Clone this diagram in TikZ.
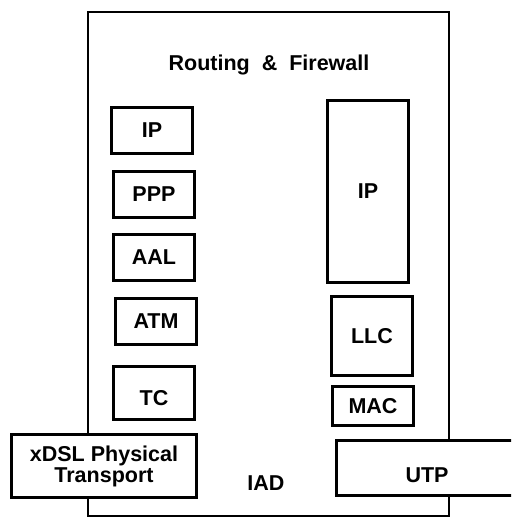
\documentclass[tikz,border=0pt]{standalone}
\usepackage{fontspec}
\setmainfont{Liberation Sans}
\begin{document}
\begin{tikzpicture}[x=1pt,y=-1pt,
  txt/.style={font=\fontsize{21.5}{21}\selectfont\bfseries, inner sep=0pt, align=center},
  layer/.style={txt, draw, line width=2.6pt, fill=white, outer sep=0pt},
  frame/.style={draw, line width=1.4pt, inner sep=0pt, outer sep=0pt}]
\useasboundingbox (0,0) rectangle (511,518);
\clip (0,0) rectangle (511,518);
% outer IAD frame
\node[frame, minimum width=361pt, minimum height=504pt] (iad) at (268.5,264) {};
\node[txt] (title) at (269,65) {Routing~~\&~~Firewall};
% left stack
\node[layer, minimum width=81.5pt, minimum height=46.5pt] (ipL) at (152,130.5) {IP};
\node[layer, minimum width=81.5pt, minimum height=46.5pt] (ppp) at (154,194.5) {PPP};
\node[layer, minimum width=81.5pt, minimum height=46.5pt] (aal) at (154,257.5) {AAL};
\node[layer, minimum width=81.5pt, minimum height=46.5pt] (atm) at (156,321.5) {ATM};
\node[layer, minimum width=81.5pt, minimum height=53.5pt, align=none, text height=25pt, text depth=0pt] (tc) at (154,393) {TC};
\node[layer, minimum width=185.5pt, minimum height=63.5pt] (xdsl) at (104,466) {xDSL Physical\\Transport};
% right stack
\node[layer, minimum width=81.5pt, minimum height=182.5pt] (ipR) at (368,191.5) {IP};
\node[layer, minimum width=81.5pt, minimum height=79.5pt] (llc) at (372,336) {LLC};
\node[layer, minimum width=81.5pt, minimum height=39.5pt] (mac) at (373,406) {MAC};
\node[layer, minimum width=192.5pt, minimum height=55.5pt] (utp) at (432.5,468) {};
\node[txt] (utptxt) at (427,475) {UTP};
\node[txt] (iadtxt) at (266,483) {IAD};
\end{tikzpicture}
\end{document}
